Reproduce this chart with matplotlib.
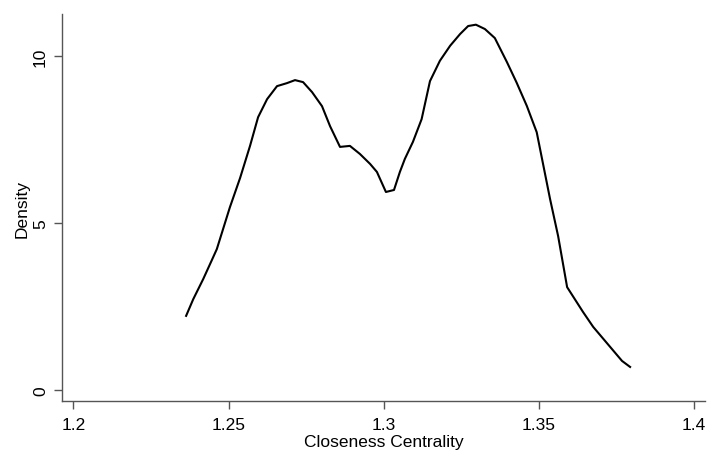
import numpy as np
import matplotlib.pyplot as plt

# kernel density estimate
closeness = [1.2363, 1.2386, 1.2418, 1.2445, 1.2462, 1.2504, 1.2537, 1.2569, 1.2595,
             1.2624, 1.2656, 1.2688, 1.2714, 1.2740, 1.2769, 1.2801, 1.2827, 1.2859,
             1.2891, 1.2923, 1.2956, 1.2978, 1.3007, 1.3033, 1.3052, 1.3068, 1.3094,
             1.3122, 1.3149, 1.3181, 1.3214, 1.3246, 1.3272, 1.3297, 1.3326, 1.3358,
             1.3397, 1.3428, 1.3461, 1.3493, 1.3536, 1.3562, 1.3591, 1.3642, 1.3675,
             1.3768, 1.3794]
density = [2.22, 2.72, 3.32, 3.87, 4.22, 5.47, 6.35, 7.31, 8.17,
           8.71, 9.10, 9.19, 9.28, 9.22, 8.92, 8.50, 7.90, 7.28,
           7.31, 7.07, 6.77, 6.53, 5.93, 5.99, 6.53, 6.92, 7.43,
           8.11, 9.25, 9.86, 10.31, 10.66, 10.90, 10.94, 10.81, 10.54,
           9.82, 9.21, 8.51, 7.72, 5.72, 4.61, 3.08, 2.34, 1.89,
           0.87, 0.69]

xticks = [1.2, 1.25, 1.3, 1.35, 1.4]
xticklabels = ['1.2', '1.25', '1.3', '1.35', '1.4']
yticks = [0, 5, 10]

plt.rcParams['font.family'] = ['Liberation Sans', 'DejaVu Sans']

fig = plt.figure(figsize=(7.07, 4.52), dpi=100)
ax = fig.add_axes([0.0877, 0.1106, 0.9093, 0.8562])

ax.plot(closeness, density, color='black', linewidth=1.5)

ax.set_xlim(1.1963, 1.4035)
ax.set_ylim(-0.33, 11.26)
ax.set_xticks(xticks)
ax.set_xticklabels(xticklabels)
ax.set_yticks(yticks)
ax.set_yticklabels([str(t) for t in yticks], rotation=90, va='center')

for side in ['top', 'right']:
    ax.spines[side].set_visible(False)
for side in ['left', 'bottom']:
    ax.spines[side].set_color('#555555')
    ax.spines[side].set_linewidth(1.0)
ax.tick_params(colors='#555555', labelcolor='black', length=6, width=1.0, labelsize=12.5)
ax.tick_params(axis='x', pad=5.2)
ax.tick_params(axis='y', pad=4)

ax.set_xlabel('Closeness Centrality', fontsize=12.5, labelpad=1.5)
ax.set_ylabel('Density', fontsize=12.5, labelpad=2.5)

fig.savefig('out.png', dpi=100)
